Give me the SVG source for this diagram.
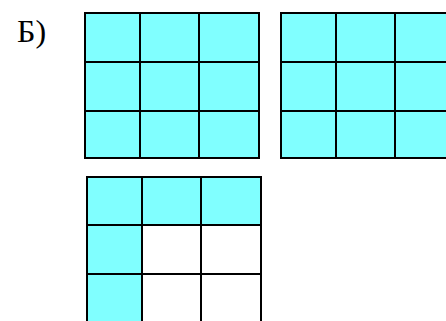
<svg xmlns="http://www.w3.org/2000/svg" width="446" height="321" viewBox="0 0 446 321">
<style>
.c{fill:#80ffff}
.w{fill:#ffffff}
.g{stroke:#000;stroke-width:2;fill:none}
.t{font-family:"Liberation Serif","Times New Roman",serif;font-size:32px;fill:#000}
</style>
<rect width="446" height="321" fill="#fff"/>
<text class="t" x="17" y="42">Б)</text>
<g id="grid1">
<rect class="c" x="85" y="13" width="174" height="145"/>
<path class="g" d="M85 13H259V158H85Z M140 13V158 M199 13V158 M85 62H259 M85 111H259"/>
</g>
<g id="grid2">
<rect class="c" x="281" y="13" width="175" height="145"/>
<path class="g" d="M456 13H281V158H456 M336 13V158 M395 13V158 M281 62H446 M281 111H446"/>
</g>
<g id="grid3">
<rect class="c" x="87" y="177" width="174" height="148"/>
<rect class="w" x="142" y="225" width="119" height="100"/>
<path class="g" d="M87 325V177H261V325 M142 177V325 M201 177V325 M87 225H261 M87 274H261"/>
</g>
</svg>
